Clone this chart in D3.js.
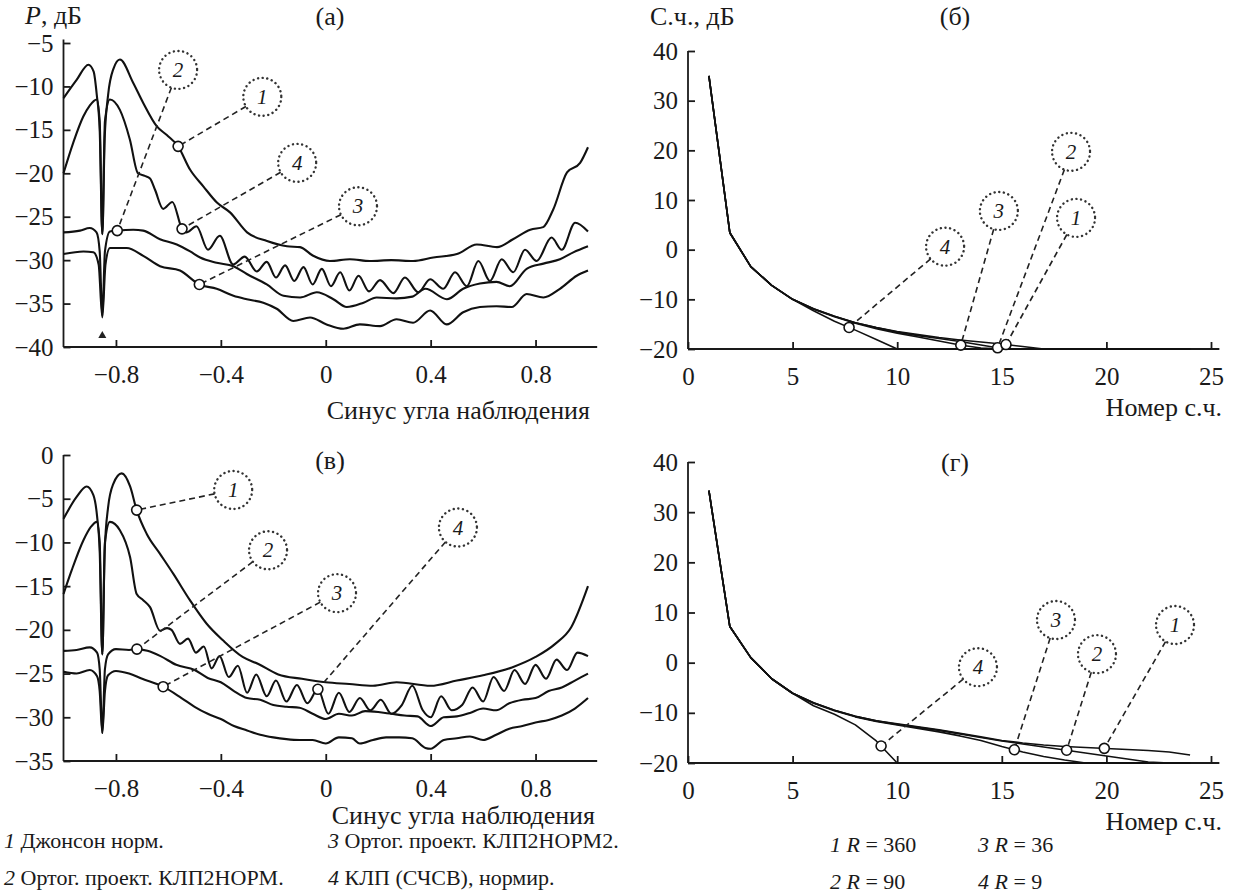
<!DOCTYPE html>
<html>
<head>
<meta charset="utf-8">
<script src="https://cdn.jsdelivr.net/npm/d3@7"></script>
<style>
  body { margin: 0; background: #fff; }
  text { font-family: "Liberation Serif", Tinos, "DejaVu Serif", "Noto Serif", serif; fill: #1a1a1a; }
  .axis text { font-size: 25px; }
  .axis line, .axline { stroke: #1a1a1a; stroke-width: 1.8; }
  .curve { fill: none; stroke: #111; stroke-width: 2.1; stroke-linejoin: round; }
  .curve.thin { stroke-width: 1.6; }
  .leader { stroke: #222; stroke-width: 1.6; stroke-dasharray: 6 4; fill: none; }
  .bubble { fill: none; stroke: #333; stroke-width: 2.4; stroke-dasharray: 0.1 4.6; stroke-linecap: round; }
  .mark { fill: #fff; stroke: #111; stroke-width: 1.6; }
</style>
</head>
<body>
<svg id="chart" width="1237" height="894"></svg>
<script>
// ---- panel (а): sine of angle vs P, dB  [sin, dB]
var a1 = [[-1,-11.35],[-0.95,-9.25],[-0.905,-7.5],[-0.885,-8.3],[-0.873,-11],[-0.862,-15],[-0.852,-27],[-0.843,-16],[-0.83,-11],[-0.81,-8],[-0.785,-6.9],
  [-0.734,-9.6],[-0.696,-11.9],[-0.644,-14.6],[-0.606,-15.6],[-0.563,-16.9],[-0.517,-19.6],[-0.467,-21.5],[-0.414,-23.4],[-0.365,-24.5],[-0.3,-26.8],
  [-0.224,-27.8],[-0.148,-28.4],[-0.098,-28.5],[-0.048,-29.5],[0.016,-30.1],[0.092,-29.9],[0.168,-30.1],[0.25,-30.0],[0.333,-30.1],[0.41,-29.7],
  [0.5,-29.3],[0.576,-28.2],[0.653,-28.5],[0.714,-27.6],[0.78,-26.5],[0.829,-26.2],[0.867,-24.2],[0.92,-19.9],[0.97,-18.8],[1.0,-17.0]];
var a4 = [[-1,-20],[-0.963,-16.5],[-0.925,-13.5],[-0.9,-12.2],[-0.873,-11.5],[-0.862,-14],[-0.852,-27],[-0.842,-14],[-0.823,-11.5],[-0.785,-12.7],
  [-0.747,-16.1],[-0.716,-20],[-0.69,-20.3],[-0.67,-20.6],[-0.651,-21.9],[-0.62,-24.1],[-0.585,-23.3],[-0.548,-26.4],[-0.53,-26.8],[-0.493,-26.1],
  [-0.449,-28.8],[-0.404,-27.2],[-0.353,-30.5],[-0.309,-29.6],[-0.263,-31.3],[-0.225,-30.2],[-0.19,-32.0],[-0.155,-30.6],[-0.12,-32.4],[-0.085,-30.8],
  [-0.05,-32.8],[-0.015,-31.0],[0.02,-33.0],[0.055,-31.4],[0.09,-33.5],[0.125,-31.8],[0.165,-33.6],[0.207,-32.3],[0.258,-33.8],[0.302,-32.0],
  [0.353,-33.7],[0.398,-32.2],[0.448,-33.3],[0.493,-31.4],[0.538,-33.0],[0.582,-30.1],[0.626,-32.4],[0.671,-29.9],[0.715,-31.4],[0.76,-28.8],
  [0.804,-30.1],[0.861,-27.4],[0.9,-28.8],[0.951,-25.7],[1.0,-26.7]];
var a2 = [[-1,-26.8],[-0.937,-26.6],[-0.9,-26.3],[-0.874,-26.8],[-0.862,-29],[-0.852,-36.4],[-0.842,-29],[-0.823,-26.7],[-0.795,-26.6],[-0.734,-26.5],
  [-0.696,-26.6],[-0.632,-27.6],[-0.568,-28.2],[-0.517,-29.0],[-0.479,-29.7],[-0.416,-30.3],[-0.352,-30.7],[-0.301,-31.6],[-0.225,-32.8],[-0.161,-34.1],
  [-0.098,-34.3],[-0.034,-33.7],[0.029,-34.5],[0.08,-35.4],[0.144,-34.9],[0.194,-34.3],[0.27,-34.4],[0.33,-34.2],[0.38,-33.3],[0.462,-34.5],
  [0.524,-33.3],[0.588,-32.7],[0.651,-32.5],[0.702,-33.0],[0.766,-31.0],[0.83,-30.4],[0.893,-29.9],[0.944,-29.1],[1.0,-28.4]];
var a3 = [[-1,-29.3],[-0.924,-29.0],[-0.886,-29.1],[-0.866,-30.5],[-0.852,-36.6],[-0.84,-30.5],[-0.823,-28.6],[-0.759,-28.6],[-0.696,-29.5],
  [-0.632,-30.7],[-0.556,-31.2],[-0.482,-32.8],[-0.416,-33.3],[-0.352,-34.1],[-0.301,-34.5],[-0.238,-34.9],[-0.187,-35.6],[-0.124,-37.0],[-0.06,-36.6],
  [0.003,-37.4],[0.067,-37.9],[0.13,-37.4],[0.207,-37.6],[0.27,-36.8],[0.333,-37.2],[0.398,-35.8],[0.461,-37.4],[0.524,-36.0],[0.588,-35.4],
  [0.651,-35.3],[0.709,-35.4],[0.766,-33.9],[0.83,-34.3],[0.893,-33.3],[0.957,-31.8],[1.0,-31.2]];

// ---- panel (в)
var b1 = [[-1,-7.3],[-0.95,-4.8],[-0.912,-3.6],[-0.886,-4.6],[-0.872,-7],[-0.862,-11],[-0.852,-22.8],[-0.843,-11],[-0.83,-6],[-0.81,-3.3],[-0.778,-2.1],
  [-0.746,-3.6],[-0.721,-6.3],[-0.683,-9.0],[-0.632,-11.3],[-0.581,-13.6],[-0.518,-16.6],[-0.454,-19.3],[-0.392,-21.2],[-0.317,-23.1],[-0.257,-23.9],
  [-0.181,-25.1],[-0.091,-25.6],[0,-26.0],[0.09,-26.2],[0.18,-26.4],[0.27,-26.0],[0.4,-26.4],[0.5,-25.8],[0.6,-25.2],[0.71,-24.3],[0.8,-23.1],
  [0.875,-21.6],[0.936,-19.7],[1.0,-15.0]];
var b4 = [[-1,-15.9],[-0.969,-13.2],[-0.924,-9.75],[-0.895,-8.2],[-0.873,-7.65],[-0.862,-10],[-0.852,-22.8],[-0.842,-10],[-0.823,-7.65],[-0.785,-8.6],
  [-0.746,-11.7],[-0.721,-15.9],[-0.696,-16.6],[-0.67,-17.4],[-0.632,-20.1],[-0.605,-19.8],[-0.588,-20.0],[-0.556,-21.6],[-0.525,-21.0],[-0.495,-22.6],
  [-0.465,-21.9],[-0.435,-24.4],[-0.405,-23.0],[-0.37,-25.4],[-0.335,-24.1],[-0.3,-27.2],[-0.265,-25.1],[-0.225,-27.6],[-0.19,-25.8],[-0.15,-28.2],
  [-0.11,-26.3],[-0.07,-28.4],[-0.03,-26.8],[0.01,-29.6],[0.05,-27.2],[0.09,-29.4],[0.13,-27.8],[0.17,-29.2],[0.21,-28.0],[0.25,-29.6],[0.29,-28.6],
  [0.33,-26.4],[0.37,-29.2],[0.4,-30.0],[0.44,-27.6],[0.48,-29.2],[0.52,-28.6],[0.56,-26.6],[0.6,-28.2],[0.64,-25.4],[0.68,-27.0],[0.72,-24.6],
  [0.76,-26.2],[0.8,-24.0],[0.84,-25.6],[0.88,-23.4],[0.92,-24.6],[0.96,-22.6],[1.0,-23.0]];
var b2 = [[-1,-22.4],[-0.95,-22.3],[-0.9,-22.0],[-0.872,-22.6],[-0.862,-24.5],[-0.852,-31.8],[-0.842,-24.5],[-0.83,-22.8],[-0.8,-22.2],[-0.75,-22.3],
  [-0.72,-22.2],[-0.68,-22.4],[-0.63,-23.0],[-0.57,-24.0],[-0.5,-24.6],[-0.45,-25.5],[-0.4,-26.0],[-0.35,-27.0],[-0.3,-27.8],[-0.25,-28.0],[-0.2,-28.6],
  [-0.15,-28.8],[-0.1,-28.9],[-0.05,-29.6],[0,-30.2],[0.05,-29.6],[0.1,-29.8],[0.15,-29.3],[0.2,-29.4],[0.25,-29.6],[0.3,-29.8],[0.35,-29.9],
  [0.4,-31.0],[0.45,-30.0],[0.5,-29.9],[0.55,-29.5],[0.6,-29.0],[0.65,-29.2],[0.7,-28.4],[0.75,-28.0],[0.8,-27.8],[0.85,-27.0],[0.9,-26.6],
  [0.95,-25.8],[1.0,-25.0]];
var b3 = [[-1,-24.8],[-0.95,-25.0],[-0.9,-24.6],[-0.872,-25.3],[-0.862,-27],[-0.852,-31.8],[-0.842,-27],[-0.83,-25.2],[-0.8,-24.7],[-0.75,-25.0],
  [-0.7,-25.6],[-0.62,-26.5],[-0.55,-27.8],[-0.5,-28.8],[-0.45,-29.6],[-0.4,-30.2],[-0.35,-31.0],[-0.3,-31.5],[-0.25,-32.0],[-0.2,-32.3],[-0.15,-32.5],
  [-0.1,-32.6],[-0.05,-32.6],[0,-33.0],[0.05,-32.3],[0.1,-32.4],[0.13,-33.0],[0.18,-32.6],[0.23,-32.3],[0.28,-32.3],[0.33,-32.4],[0.38,-33.5],
  [0.4,-33.6],[0.45,-32.6],[0.5,-32.4],[0.55,-32.2],[0.6,-32.6],[0.65,-32.0],[0.7,-31.3],[0.75,-31.0],[0.8,-30.6],[0.85,-30.3],[0.9,-29.8],
  [0.95,-29.0],[1.0,-27.8]];

// ---- panels (б) and (г): singular value number vs level, dB
var harmNum = [1,2,3,4,5,6,7,8,9,10,11,12,13,14,15,16,17,18,19,20,21,22,23,24];
var bR360 = [35,3.4,-3.4,-7.2,-10,-11.9,-13.4,-14.7,-15.7,-16.5,-17.1,-17.7,-18.2,-18.6,-19.0,-19.5,-20,-20,-20,-20,-20,-20,-20,-20];
var bR90  = [35,3.4,-3.4,-7.2,-10,-11.9,-13.4,-14.7,-15.7,-16.6,-17.3,-17.9,-18.5,-19.2,-19.9,-20,-20,-20,-20,-20,-20,-20,-20,-20];
var bR36  = [35,3.4,-3.4,-7.2,-10,-12.0,-13.5,-14.8,-15.9,-16.8,-17.6,-18.4,-19.2,-19.8,-20,-20,-20,-20,-20,-20,-20,-20,-20,-20];
var bR9   = [35,3.4,-3.4,-7.2,-10,-12.3,-14.4,-16.2,-18.1,-20,-20,-20,-20,-20,-20,-20,-20,-20,-20,-20,-20,-20,-20,-20];
var gR360 = [34.3,7.2,1.0,-3.2,-6.1,-8.0,-9.5,-10.7,-11.6,-12.2,-12.8,-13.4,-14.1,-14.8,-15.5,-16.0,-16.4,-16.7,-16.9,-17.1,-17.3,-17.5,-17.8,-18.4];
var gR90  = [34.3,7.2,1.0,-3.2,-6.1,-8.0,-9.5,-10.7,-11.6,-12.3,-12.9,-13.5,-14.2,-14.9,-15.6,-16.2,-16.8,-17.4,-18.0,-18.6,-19.2,-19.8,-20,-20];
var gR36  = [34.3,7.2,1.0,-3.2,-6.1,-8.1,-9.6,-10.8,-11.7,-12.4,-13.1,-13.8,-14.6,-15.5,-16.7,-17.8,-18.7,-19.4,-20,-20,-20,-20,-20,-20];
var gR9   = [34.3,7.2,1.0,-3.2,-6.1,-8.6,-10.3,-12.4,-15.6,-20,-20,-20,-20,-20,-20,-20,-20,-20,-20,-20,-20,-20,-20,-20];

// ticks
var sinTicks = [-0.8, -0.4, 0, 0.4, 0.8];
var pTicksA = [-5, -10, -15, -20, -25, -30, -35, -40];
var pTicksB = [0, -5, -10, -15, -20, -25, -30, -35];
var numTicks = [0, 5, 10, 15, 20, 25];
var svTicks = [40, 30, 20, 10, 0, -10, -20];

// legend texts
var legendLeft = [["1", " Джонсон норм."], ["2", " Ортог. проект. КЛП2НОРМ."], ["3", " Ортог. проект. КЛП2НОРМ2."], ["4", " КЛП (СЧСВ), нормир."]];
var legendRight = [["1", "360"], ["2", "90"], ["3", "36"], ["4", "9"]];

function zipN(vals) { return harmNum.map(function(n, i) { return [n, vals[i]]; }); }

var svg = d3.select("#chart");

var xA = d3.scaleLinear().domain([-1, 1]).range([63.5, 588]);
var yA = d3.scaleLinear().domain([-5, -40]).range([43, 347]);
var yB = d3.scaleLinear().domain([0, -35]).range([455, 761]);
var xN = d3.scaleLinear().domain([0, 25]).range([688, 1211]);
var yN = d3.scaleLinear().domain([40, -20]).range([51, 349]);
var yG = d3.scaleLinear().domain([40, -20]).range([462, 763]);

var sinFmt = function(d) { return d === 0 ? "0" : d3.format(".1f")(d); };
var intFmt = d3.format("d");

function axes(x, y, xt, yt, xMax, yMax, fmt) {
  var y0 = y.range()[1];
  var gx = svg.append("g").attr("class", "axis").attr("transform", "translate(0," + y0 + ")")
    .call(d3.axisBottom(x).tickValues(xt).tickSize(-7).tickSizeOuter(0).tickPadding(18).tickFormat(fmt));
  var gy = svg.append("g").attr("class", "axis").attr("transform", "translate(" + x.range()[0] + ",0)")
    .call(d3.axisLeft(y).tickValues(yt).tickSize(-7).tickSizeOuter(0).tickPadding(10).tickFormat(intFmt));
  [gx, gy].forEach(function(g) {
    g.attr("font-family", null).attr("font-size", null).attr("color", "#1a1a1a");
    g.select(".domain").remove();
  });
  svg.append("line").attr("class", "axline")
    .attr("x1", x.range()[0]).attr("x2", x(xMax)).attr("y1", y0).attr("y2", y0);
  svg.append("line").attr("class", "axline")
    .attr("x1", x.range()[0]).attr("x2", x.range()[0]).attr("y1", y0).attr("y2", y(yMax));
}

function curve(x, y, data, smooth, cls) {
  var line = d3.line().x(function(d) { return x(d[0]); }).y(function(d) { return y(d[1]); })
    .curve(smooth ? d3.curveMonotoneX : d3.curveLinear);
  svg.append("path").datum(data).attr("class", "curve " + (cls || "")).attr("d", line);
}

function valueAt(data, xv) {
  var i = d3.bisector(function(d) { return d[0]; }).left(data, xv);
  if (i <= 0) return data[0][1];
  if (i >= data.length) return data[data.length - 1][1];
  var p = data[i - 1], q = data[i];
  return p[1] + (q[1] - p[1]) * (xv - p[0]) / (q[0] - p[0]);
}

// callout: dotted bubble with curve number, dashed leader to an open marker on the curve
function callout(x, y, data, at, lx, ly, label) {
  var mx = x(at), my = y(valueAt(data, at));
  var cx = x(lx), cy = y(ly), r = 19;
  var dx = mx - cx, dy = my - cy, len = Math.sqrt(dx * dx + dy * dy);
  var ux = dx / len, uy = dy / len;
  svg.append("line").attr("class", "leader")
    .attr("x1", cx + ux * r).attr("y1", cy + uy * r)
    .attr("x2", mx - ux * 5).attr("y2", my - uy * 5);
  svg.append("circle").attr("class", "bubble").attr("cx", cx).attr("cy", cy).attr("r", r);
  svg.append("text").attr("x", cx).attr("y", cy + 7).attr("text-anchor", "middle")
    .style("font-size", "21px").style("font-style", "italic").text(label);
  svg.append("circle").attr("class", "mark").attr("cx", mx).attr("cy", my).attr("r", 5);
}

function txt(x, y, s, anchor, size) {
  return svg.append("text").attr("x", x).attr("y", y).attr("text-anchor", anchor || "start")
    .style("font-size", (size || 25) + "px").text(s);
}

// ---------- panel (а)
axes(xA, yA, sinTicks, pTicksA, 1.035, -4.6, sinFmt);
[a1, a4, a2, a3].forEach(function(d) { curve(xA, yA, d, true); });
svg.append("path").attr("d", d3.symbol(d3.symbolTriangle).size(28)())
  .attr("transform", "translate(" + xA(-0.852) + "," + yA(-38.7) + ")").attr("fill", "#222");
callout(xA, yA, a2, -0.795, -0.563, -8.1, "2");
callout(xA, yA, a1, -0.563, -0.242, -11.2, "1");
callout(xA, yA, a4, -0.548, -0.109, -18.8, "4");
callout(xA, yA, a3, -0.482, 0.123, -23.8, "3");
var pl = txt(25, 24, "", "start", 26);
pl.append("tspan").style("font-style", "italic").text("P");
pl.append("tspan").text(", дБ");
txt(330, 25, "(а)", "middle", 26);
txt(590, 419, "Синус угла наблюдения", "end", 26);

// ---------- panel (в)
axes(xA, yB, sinTicks, pTicksB, 1.035, 0, sinFmt);
[b1, b4, b2, b3].forEach(function(d) { curve(xA, yB, d, true); });
callout(xA, yB, b1, -0.721, -0.353, -4.0, "1");
callout(xA, yB, b2, -0.72, -0.22, -10.9, "2");
callout(xA, yB, b3, -0.62, 0.043, -15.8, "3");
callout(xA, yB, b4, -0.03, 0.504, -8.3, "4");
txt(330, 469, "(в)", "middle", 26);
txt(595, 824, "Синус угла наблюдения", "end", 26);

// ---------- panel (б)
axes(xN, yN, numTicks, svTicks, 25.4, 40, intFmt);
[bR360, bR90, bR36, bR9].forEach(function(v) { curve(xN, yN, zipN(v), false, "thin"); });
callout(xN, yN, zipN(bR9), 7.7, 12.29, 0.6, "4");
callout(xN, yN, zipN(bR36), 13.04, 14.86, 7.8, "3");
callout(xN, yN, zipN(bR90), 14.8, 18.31, 19.7, "2");
callout(xN, yN, zipN(bR360), 15.2, 18.55, 6.4, "1");
txt(650, 25, "С.ч., дБ", "start", 26);
txt(955, 25, "(б)", "middle", 26);
txt(1222, 416, "Номер с.ч.", "end", 26);

// ---------- panel (г)
axes(xN, yG, numTicks, svTicks, 25.4, 40, intFmt);
[gR360, gR90, gR36, gR9].forEach(function(v) { curve(xN, yG, zipN(v), false, "thin"); });
callout(xN, yG, zipN(gR9), 9.23, 13.86, -0.9, "4");
callout(xN, yG, zipN(gR36), 15.6, 17.59, 8.5, "3");
callout(xN, yG, zipN(gR90), 18.1, 19.55, 1.7, "2");
callout(xN, yG, zipN(gR360), 19.9, 23.28, 7.5, "1");
txt(955, 471, "(г)", "middle", 26);
txt(1222, 830, "Номер с.ч.", "end", 26);

// ---------- legends
var legX = [4, 4, 328, 328], legY = [848, 885, 848, 885];
legendLeft.forEach(function(d, i) {
  var t = txt(legX[i], legY[i], "", "start", 22);
  t.append("tspan").style("font-style", "italic").text(d[0]);
  t.append("tspan").text(d[1]);
});
var rX = [830, 830, 978, 978], rY = [852, 889, 852, 889];
legendRight.forEach(function(d, i) {
  var t = txt(rX[i], rY[i], "", "start", 22);
  t.append("tspan").style("font-style", "italic").text(d[0] + " R");
  t.append("tspan").text(" = " + d[1]);
});
</script>
</body>
</html>
